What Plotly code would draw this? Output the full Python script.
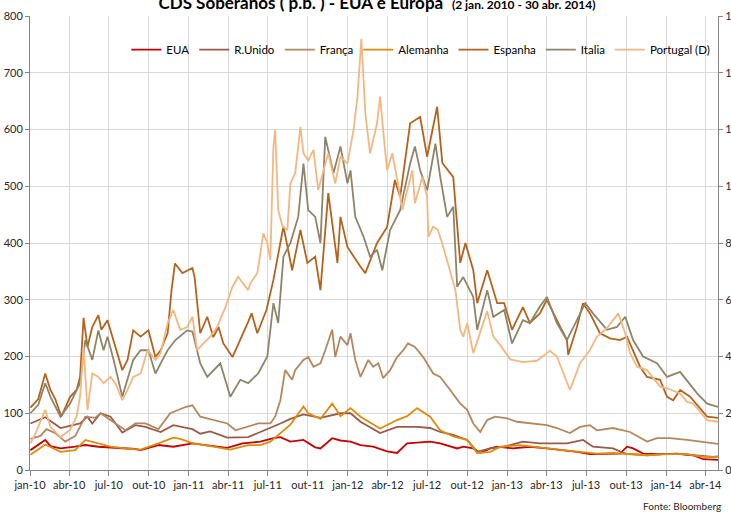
import plotly.graph_objects as go
import pandas as pd

# ---------------- data ----------------
eua_dates = ["2010-01-02","2010-02-05","2010-02-17","2010-03-12","2010-04-15","2010-05-08","2010-06-07",
             "2010-07-16","2010-08-31","2010-09-12","2010-10-23","2010-11-26","2011-01-09","2011-02-08",
             "2011-03-30","2011-05-04","2011-06-14","2011-07-14","2011-07-30","2011-08-22","2011-09-21",
             "2011-10-18","2011-10-30","2011-11-26","2011-12-15","2012-01-07","2012-01-30","2012-02-28",
             "2012-03-31","2012-04-23","2012-05-16","2012-07-08","2012-07-31","2012-09-08","2012-09-22",
             "2012-10-15","2012-10-31","2012-11-23","2012-12-09","2013-01-14","2013-02-22","2013-04-02",
             "2013-05-09","2013-06-10","2013-07-10","2013-08-18","2013-09-17","2013-10-03","2013-10-17",
             "2013-11-09","2013-12-18","2014-01-26","2014-03-04","2014-03-27","2014-04-30"]
eua_vals = [35,53,42,38,41,44,41,39,37,35,44,41,47,44,39,47,50,56,58,50,53,40,38,56,52,50,44,41,33,30,
            47,50,47,38,41,38,30,38,41,38,41,38,35,32,28,28,29,41,38,29,28,29,26,19,18]

ru_dates = ["2010-01-02","2010-02-05","2010-03-12","2010-04-26","2010-05-13","2010-05-24","2010-06-12",
            "2010-07-05","2010-08-01","2010-08-31","2010-09-23","2010-10-28","2010-11-26","2011-01-09",
            "2011-01-27","2011-02-19","2011-03-30","2011-05-17","2011-06-14","2011-07-07","2011-07-30",
            "2011-08-22","2011-09-21","2011-10-30","2011-11-26","2011-12-15","2012-01-07","2012-01-30",
            "2012-03-15","2012-04-23","2012-06-08","2012-07-08","2012-07-31","2012-08-30","2012-10-01",
            "2012-10-24","2012-11-23","2012-12-25","2013-02-06","2013-03-17","2013-05-18","2013-06-24",
            "2013-07-17","2013-09-01","2013-09-29","2013-11-18","2013-12-25","2014-02-02","2014-03-04",
            "2014-04-19","2014-04-30"]
ru_vals = [82,93,74,82,94,82,100,94,66,79,76,67,79,72,64,68,57,58,67,74,82,90,98,92,97,100,100,85,
           65,76,76,74,67,62,53,32,38,41,50,47,47,53,41,38,29,26,28,28,26,23,24]

fra_dates = ["2010-01-02","2010-01-25","2010-02-08","2010-02-28","2010-03-23","2010-04-15","2010-05-08",
             "2010-05-31","2010-06-12","2010-07-16","2010-08-08","2010-08-31","2010-09-23","2010-10-23",
             "2010-11-19","2010-12-24","2011-01-09","2011-01-27","2011-02-26","2011-03-30","2011-04-18",
             "2011-05-17","2011-06-09","2011-07-07","2011-07-18","2011-07-30","2011-08-10","2011-08-26",
             "2011-09-02","2011-09-21","2011-10-02","2011-10-14","2011-10-30","2011-11-10","2011-11-26",
             "2011-12-03","2011-12-15","2011-12-31","2012-01-07","2012-01-18","2012-01-30","2012-02-17",
             "2012-02-28","2012-03-11","2012-03-22","2012-04-07","2012-04-23","2012-05-07","2012-05-18",
             "2012-06-03","2012-06-22","2012-07-15","2012-07-31","2012-08-23","2012-09-15","2012-10-01",
             "2012-10-15","2012-10-31","2012-11-16","2012-12-04","2013-01-01","2013-01-23","2013-02-22",
             "2013-04-02","2013-04-25","2013-05-25","2013-06-17","2013-07-10","2013-07-26","2013-09-01",
             "2013-10-10","2013-11-18","2013-12-11","2014-01-10","2014-02-18","2014-03-20","2014-04-19",
             "2014-04-30"]
fra_vals = [55,60,72,65,50,60,94,92,100,82,70,82,82,72,100,111,114,94,88,82,70,76,82,82,94,123,176,159,
            176,194,199,182,188,211,247,199,235,220,241,194,164,194,182,188,162,176,199,211,223,217,199,
            170,164,141,117,106,82,67,88,94,91,85,82,79,74,65,76,79,70,74,67,50,56,56,53,50,47,46]

ale_dates = ["2010-01-02","2010-02-05","2010-03-12","2010-04-15","2010-05-08","2010-06-07","2010-07-05",
             "2010-08-08","2010-09-12","2010-10-23","2010-11-26","2010-12-12","2011-01-11","2011-02-26",
             "2011-04-06","2011-05-17","2011-06-14","2011-07-07","2011-07-30","2011-08-22","2011-09-21",
             "2011-10-02","2011-10-30","2011-11-26","2011-12-15","2012-01-07","2012-01-30","2012-03-15",
             "2012-04-23","2012-05-16","2012-06-08","2012-07-08","2012-07-31","2012-08-30","2012-10-01",
             "2012-10-24","2012-11-23","2012-12-16","2013-01-30","2013-04-02","2013-05-09","2013-06-17",
             "2013-07-26","2013-09-01","2013-10-03","2013-11-18","2014-01-03","2014-02-18","2014-03-27",
             "2014-04-30"]
ale_vals = [27,45,32,35,53,47,41,38,36,47,57,55,47,41,36,44,44,50,65,80,112,100,90,117,95,109,94,73,
            88,95,109,94,70,59,53,30,32,41,44,38,35,32,29,30,28,26,28,28,23,23]

esp_dates = ["2010-01-02","2010-01-20","2010-02-05","2010-02-17","2010-02-28","2010-03-14","2010-04-03",
             "2010-04-18","2010-04-26","2010-05-04","2010-05-13","2010-05-24","2010-06-07","2010-06-14",
             "2010-06-28","2010-07-05","2010-07-16","2010-08-01","2010-08-13","2010-08-26","2010-09-12",
             "2010-09-30","2010-10-16","2010-10-28","2010-11-13","2010-11-22","2010-11-30","2010-12-17",
             "2011-01-09","2011-01-14","2011-01-27","2011-02-12","2011-02-26","2011-03-10","2011-03-21",
             "2011-04-11","2011-04-29","2011-05-17","2011-05-25","2011-06-07","2011-06-28","2011-07-14",
             "2011-08-06","2011-08-26","2011-09-14","2011-09-30","2011-10-18","2011-10-30","2011-11-17",
             "2011-12-08","2011-12-15","2011-12-31","2012-01-30","2012-02-10","2012-03-08","2012-03-31",
             "2012-04-18","2012-04-30","2012-05-23","2012-06-15","2012-07-01","2012-07-24","2012-08-05",
             "2012-08-30","2012-09-15","2012-09-27","2012-10-15","2012-10-24","2012-11-16","2012-12-09",
             "2012-12-25","2013-01-12","2013-02-06","2013-02-22","2013-03-17","2013-04-02","2013-04-25",
             "2013-05-18","2013-05-21","2013-06-10","2013-06-24","2013-07-10","2013-08-02","2013-08-25",
             "2013-09-17","2013-10-03","2013-11-02","2013-11-18","2013-12-18","2014-01-03","2014-01-17",
             "2014-02-02","2014-02-25","2014-03-13","2014-04-05","2014-04-30"]
esp_vals = [110,125,170,141,125,94,129,141,164,268,217,252,273,247,264,244,217,176,194,246,235,246,199,
            211,241,317,364,347,356,340,241,270,234,252,223,199,229,261,276,241,282,335,429,352,423,365,
            376,317,488,365,446,393,358,347,400,428,511,481,611,622,552,640,541,516,365,400,352,294,352,
            294,294,247,287,259,276,300,264,229,203,252,294,276,241,232,229,235,182,164,159,129,123,141,
            129,115,94,92]

ita_dates = ["2010-01-02","2010-01-20","2010-02-05","2010-02-17","2010-03-12","2010-04-03","2010-04-26",
             "2010-05-08","2010-05-24","2010-06-07","2010-06-19","2010-06-28","2010-07-12","2010-08-01",
             "2010-08-26","2010-09-12","2010-09-30","2010-10-16","2010-10-28","2010-11-13","2010-12-01",
             "2010-12-28","2011-01-09","2011-01-20","2011-01-27","2011-02-12","2011-02-26","2011-03-14",
             "2011-04-06","2011-04-29","2011-05-17","2011-06-09","2011-06-30","2011-07-14","2011-07-25",
             "2011-08-06","2011-08-22","2011-09-09","2011-09-21","2011-10-02","2011-10-18","2011-10-30",
             "2011-11-10","2011-11-29","2011-12-15","2011-12-31","2012-01-07","2012-01-18","2012-02-06",
             "2012-02-21","2012-03-08","2012-03-20","2012-04-07","2012-04-30","2012-05-23","2012-06-03",
             "2012-06-15","2012-07-01","2012-07-20","2012-07-31","2012-08-16","2012-08-30","2012-09-08",
             "2012-09-22","2012-10-15","2012-10-24","2012-11-16","2012-11-30","2012-12-25","2013-01-12",
             "2013-02-06","2013-02-22","2013-03-17","2013-04-02","2013-04-25","2013-05-18","2013-06-10",
             "2013-06-29","2013-07-17","2013-08-18","2013-09-10","2013-09-29","2013-10-17","2013-11-09",
             "2013-12-11","2014-01-03","2014-02-02","2014-02-25","2014-03-13","2014-04-05","2014-04-30"]
ita_vals = [100,115,153,129,94,117,153,229,194,246,211,235,194,129,194,211,211,170,188,211,229,246,244,
            211,188,164,176,188,129,159,153,170,200,294,259,376,400,446,540,458,446,400,587,523,570,505,
            528,446,411,376,388,352,423,458,540,570,528,493,575,517,446,464,323,340,305,247,317,270,282,
            223,264,259,288,305,259,229,264,294,276,247,252,270,229,200,188,164,173,150,135,117,111]

prt_dates = ["2010-01-02","2010-01-14","2010-02-05","2010-02-17","2010-03-12","2010-04-03","2010-04-18",
             "2010-04-26","2010-05-04","2010-05-13","2010-05-24","2010-06-07","2010-06-19","2010-07-05",
             "2010-07-16","2010-08-01","2010-08-13","2010-08-26","2010-09-12","2010-09-28","2010-10-16",
             "2010-10-28","2010-11-13","2010-11-26","2010-12-12","2010-12-28","2011-01-09","2011-01-20",
             "2011-02-03","2011-02-19","2011-03-07","2011-03-26","2011-04-11","2011-04-24","2011-05-17",
             "2011-05-22","2011-06-07","2011-06-21","2011-06-30","2011-07-07","2011-07-14","2011-07-18",
             "2011-07-25","2011-08-04","2011-08-15","2011-08-22","2011-09-02","2011-09-14","2011-09-21",
             "2011-10-02","2011-10-14","2011-10-25","2011-11-06","2011-11-17","2011-12-03","2011-12-15",
             "2011-12-31","2012-01-14","2012-01-23","2012-01-30","2012-02-01","2012-02-10","2012-02-17",
             "2012-02-21","2012-03-08","2012-03-15","2012-03-22","2012-03-31","2012-04-12","2012-04-18",
             "2012-04-25","2012-05-05","2012-05-16","2012-05-28","2012-06-03","2012-06-20","2012-07-01",
             "2012-07-04","2012-07-15","2012-07-26","2012-08-07","2012-08-23","2012-09-04","2012-09-15",
             "2012-09-22","2012-10-01","2012-10-15","2012-11-16","2012-11-30","2012-12-16","2013-01-08",
             "2013-02-06","2013-03-10","2013-04-09","2013-04-25","2013-05-25","2013-06-17","2013-07-10",
             "2013-07-26","2013-08-18","2013-09-13","2013-09-29","2013-10-10","2013-10-26","2013-11-18",
             "2013-12-18","2014-01-03","2014-02-02","2014-02-18","2014-03-04","2014-04-05","2014-04-30"]
prt_vals = [94,130,212,152,116,141,188,260,434,212,340,328,306,328,306,246,282,328,340,423,388,412,517,
            564,494,504,540,422,446,470,505,575,646,681,634,658,694,834,800,740,1140,1198,916,858,846,
            1010,1046,1209,1116,1092,1128,986,1056,1116,1010,1104,1080,1198,1316,1456,1520,1258,1152,
            1116,1222,1316,1198,1056,1116,1068,1010,916,986,1056,940,1032,962,822,858,846,786,704,634,
            494,470,518,412,560,470,440,390,380,385,420,400,282,376,423,470,500,552,482,412,364,352,294,
            288,270,240,234,176,170]

tick_labels = ["jan-10","abr-10","jul-10","out-10","jan-11","abr-11","jul-11","out-11","jan-12",
               "abr-12","jul-12","out-12","jan-13","abr-13","jul-13","out-13","jan-14","abr-14"]
tick_dates = pd.date_range("2010-01-01", periods=len(tick_labels), freq="QS").strftime("%Y-%m-%d").tolist()

series = [
    ("EUA", eua_dates, eua_vals, "#C80000"),
    ("R.Unido", ru_dates, ru_vals, "#9B5A48"),
    ("França", fra_dates, fra_vals, "#B4875E"),
    ("Alemanha", ale_dates, ale_vals, "#DC8C0A"),
    ("Espanha", esp_dates, esp_vals, "#B4631E"),
    ("Italia", ita_dates, ita_vals, "#8E8468"),
]

FONT = "Lato, sans-serif"

fig = go.Figure()
for name, d, v, c in series:
    fig.add_trace(go.Scatter(x=d, y=v, name=name, mode="lines",
                             line=dict(color=c, width=1.8)))
fig.add_trace(go.Scatter(x=prt_dates, y=prt_vals, name="Portugal (D)", mode="lines", yaxis="y2",
                         line=dict(color="#F3B781", width=1.8)))

axis_col = "#868686"
grid_col = "#D9D9D9"
fig.update_layout(
    template="none",
    width=731, height=514,
    paper_bgcolor="white", plot_bgcolor="white",
    margin=dict(l=30, r=13, t=16, b=44),
    font=dict(family=FONT, size=11, color="#262626"),
    title=dict(
        text="<b>CDS Soberanos ( p.b. ) - EUA e Europa</b>  <span style='font-size:12px'><b>(2 jan. 2010 - 30 abr. 2014)</b></span>",
        font=dict(family=FONT, size=17, color="#000000"),
        x=377 / 731, xanchor="center", xref="container",
        y=1 - 3 / 514, yanchor="middle", yref="container"),
    showlegend=True,
    legend=dict(orientation="h", x=0.14, xanchor="left", y=0.958, yanchor="top",
                bgcolor="rgba(0,0,0,0)", font=dict(size=11.5, family=FONT, color="#000000"),
                itemwidth=30, tracegroupgap=0),
    xaxis=dict(type="date", range=["2010-01-01", "2014-04-30"],
               tickvals=tick_dates, ticktext=tick_labels,
               showgrid=True, gridcolor=grid_col, gridwidth=1,
               showline=True, linecolor=axis_col, linewidth=1,
               ticks="outside", ticklen=5, tickcolor=axis_col,
               tickfont=dict(size=11), zeroline=False, automargin=False),
    yaxis=dict(range=[0, 800], dtick=100, tick0=0,
               showgrid=True, gridcolor=grid_col, gridwidth=1,
               showline=True, linecolor=axis_col, linewidth=1,
               ticks="outside", ticklen=4, tickcolor=axis_col,
               tickfont=dict(size=11), zeroline=False, automargin=False),
    yaxis2=dict(range=[0, 1600], dtick=200, tick0=0, overlaying="y", side="right",
                showgrid=False, showline=True, linecolor=axis_col, linewidth=1,
                ticks="outside", ticklen=4, tickcolor=axis_col,
                tickfont=dict(size=11), zeroline=False, automargin=False),
    annotations=[dict(text="Fonte: Bloomberg", xref="paper", yref="paper",
                      x=(723 - 30) / 688, y=(470 - 506) / 454, xanchor="right", yanchor="middle",
                      showarrow=False, font=dict(size=10, family=FONT, color="#262626"))],
)

fig.write_html("out.html", config={"displayModeBar": False},
               post_script="document.body.style.margin='0';document.body.style.overflow='hidden';")
